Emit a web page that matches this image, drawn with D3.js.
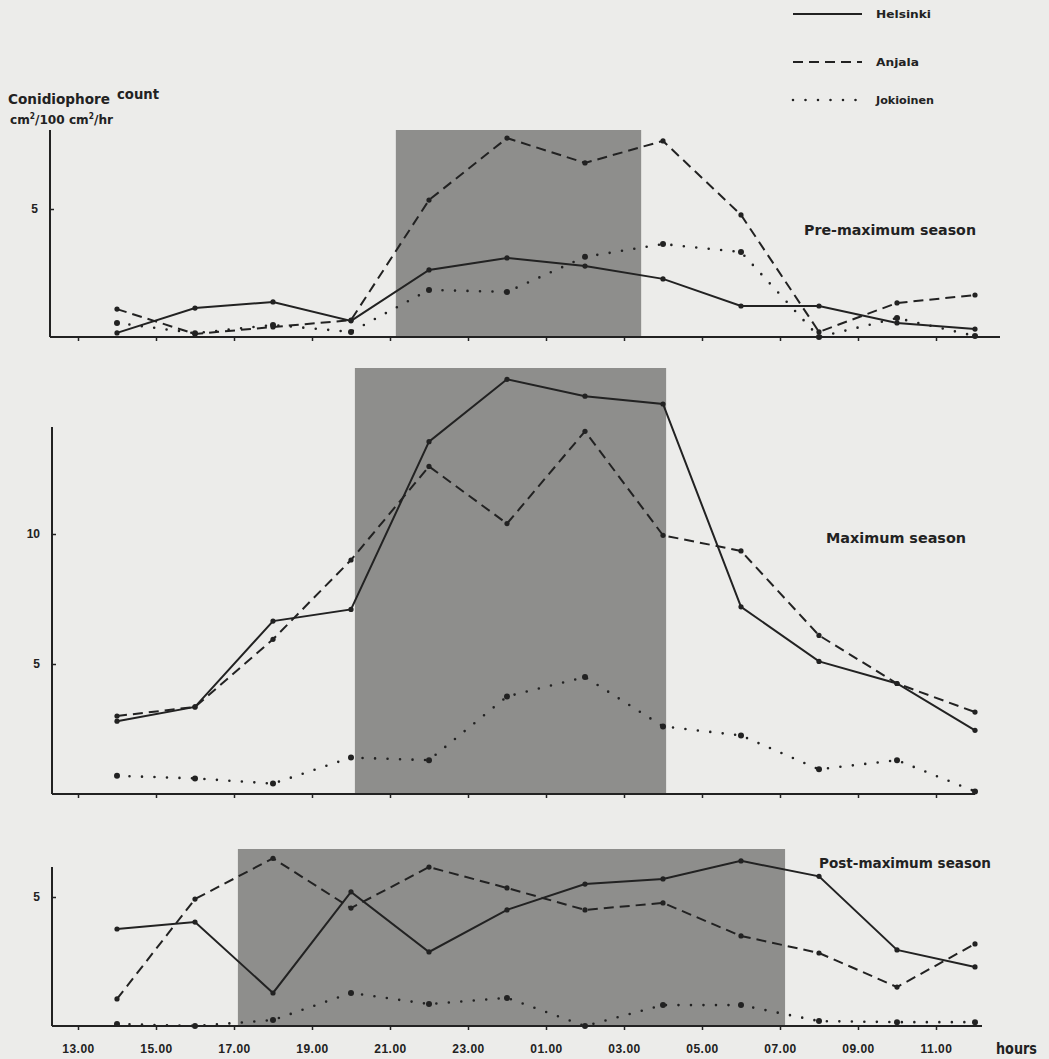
<!DOCTYPE html>
<html lang="en">
<head>
    <meta charset="UTF-8">
    <title>Conidiophore count by hour</title>
    <script src="https://d3js.org/d3.v7.min.js"></script>
    <style>
        body {
            margin: 0;
            background-color: #ececea;
        }
        svg {
            display: block;
            font-family: "Liberation Sans Narrow", "DejaVu Sans Condensed", "Liberation Sans", sans-serif;
        }
        .axis text {
            font-size: 12px;
            font-weight: bold;
            fill: #222;
        }
        .axis line {
            stroke: #222;
            stroke-width: 1.5px;
        }
        .label {
            font-weight: bold;
            fill: #222;
        }
    </style>
</head>
<body>
<svg width="1049" height="1059"></svg>

<script>
    // sampling hours (14.00 of day one ... 12.00 of day two, counted past 24)
    let hours = [14, 16, 18, 20, 22, 24, 26, 28, 30, 32, 34, 36];
    let tickHours = [13, 15, 17, 19, 21, 23, 25, 27, 29, 31, 33, 35];
    let tickLabels = ["13.00", "15.00", "17.00", "19.00", "21.00", "23.00",
                      "01.00", "03.00", "05.00", "07.00", "09.00", "11.00"];
    let seriesNames = ["Helsinki", "Anjala", "Jokioinen"];

    // Pre-maximum season
    let preHelsinki  = [0.16, 1.13, 1.37, 0.63, 2.62, 3.09, 2.77, 2.27, 1.21, 1.21, 0.55, 0.31];
    let preAnjala    = [1.09, 0.12, 0.39, 0.66, 5.35, 7.77, 6.80, 7.66, 4.77, 0.20, 1.33, 1.64];
    let preJokioinen = [0.55, 0.15, 0.47, 0.20, 1.84, 1.76, 3.13, 3.63, 3.32, 0.00, 0.74, 0.04];
    let preDark = [21.15, 27.44];

    // Maximum season
    let maxHelsinki  = [2.80, 3.35, 6.65, 7.10, 13.55, 15.95, 15.30, 15.00, 7.20, 5.10, 4.25, 2.45];
    let maxAnjala    = [3.00, 3.35, 5.95, 9.00, 12.60, 10.40, 13.95, 9.95, 9.35, 6.10, 4.25, 3.15];
    let maxJokioinen = [0.70, 0.60, 0.40, 1.40, 1.30, 3.75, 4.50, 2.60, 2.25, 0.95, 1.30, 0.10];
    let maxDark = [20.1, 28.08];

    // Post-maximum season
    let postHelsinki  = [3.76, 4.03, 1.28, 5.20, 2.87, 4.50, 5.50, 5.70, 6.40, 5.80, 2.95, 2.29];
    let postAnjala    = [1.05, 4.92, 6.50, 4.57, 6.16, 5.35, 4.50, 4.77, 3.49, 2.83, 1.51, 3.18];
    let postJokioinen = [0.08, 0.00, 0.23, 1.28, 0.85, 1.09, 0.00, 0.81, 0.81, 0.19, 0.15, 0.15];
    let postDark = [17.1, 31.13];

    let ink = "#222";
    let dashes = { Helsinki: null, Anjala: "10 6", Jokioinen: "0 12.5" };

    let svg = d3.select("svg");

    let x = d3.scaleLinear().domain([13, 35]).range([78, 936]);

    let panels = [
        { title: "Pre-maximum season", values: [preHelsinki, preAnjala, preJokioinen], dark: preDark,
          yDomain: [0, 5], yRange: [337, 209], ticks: [5], axisX: 50, axisTop: 130, shadeTop: 130,
          lineEnd: 1000, titleX: 804, titleY: 235, titleW: 172, labels: false },
        { title: "Maximum season", values: [maxHelsinki, maxAnjala, maxJokioinen], dark: maxDark,
          yDomain: [0, 10], yRange: [794, 534], ticks: [5, 10], axisX: 52, axisTop: 427, shadeTop: 368,
          lineEnd: 975, titleX: 826, titleY: 543, titleW: 140, labels: false },
        { title: "Post-maximum season", values: [postHelsinki, postAnjala, postJokioinen], dark: postDark,
          yDomain: [0, 5], yRange: [1026, 897], ticks: [5], axisX: 52, axisTop: 867, shadeTop: 849,
          lineEnd: 982, titleX: 819, titleY: 868, titleW: 172, labels: true }
    ];

    panels.forEach(p => {
        let y = d3.scaleLinear().domain(p.yDomain).range(p.yRange);
        let g = svg.append("g");
        let base = y(0);

        // darkness period
        g.append("rect")
            .attr("x", x(p.dark[0]))
            .attr("y", p.shadeTop)
            .attr("width", x(p.dark[1]) - x(p.dark[0]))
            .attr("height", base - p.shadeTop)
            .attr("fill", "#8e8e8c");

        // axes
        g.append("line")
            .attr("x1", p.axisX).attr("x2", p.axisX)
            .attr("y1", p.axisTop).attr("y2", base)
            .attr("stroke", ink).attr("stroke-width", 2);
        g.append("line")
            .attr("x1", p.axisX).attr("x2", p.lineEnd)
            .attr("y1", base).attr("y2", base)
            .attr("stroke", ink).attr("stroke-width", 2);

        g.append("g")
            .attr("class", "axis")
            .attr("transform", `translate(${p.axisX},0)`)
            .call(d3.axisLeft(y).tickValues(p.ticks).tickSize(-4).tickPadding(12)
                .tickFormat(d3.format("d")))
            .call(a => a.select(".domain").remove());

        g.append("g")
            .attr("class", "axis")
            .attr("transform", `translate(0,${base})`)
            .call(d3.axisBottom(x).tickValues(tickHours).tickSize(4).tickPadding(14)
                .tickFormat((d, i) => p.labels ? tickLabels[i] : ""))
            .call(a => a.select(".domain").remove())
            .selectAll("text")
            .attr("letter-spacing", "0.5px");

        // series
        let line = d3.line().x((d, i) => x(hours[i])).y(d => y(d));
        p.values.forEach((vals, k) => {
            let name = seriesNames[k];
            g.append("path")
                .datum(vals)
                .attr("d", line)
                .attr("fill", "none")
                .attr("stroke", ink)
                .attr("stroke-width", name === "Jokioinen" ? 2.6 : 2)
                .attr("stroke-linecap", name === "Jokioinen" ? "round" : "butt")
                .attr("stroke-dasharray", dashes[name]);
            g.selectAll(null)
                .data(vals)
                .enter().append("circle")
                .attr("cx", (d, i) => x(hours[i]))
                .attr("cy", d => y(d))
                .attr("r", name === "Jokioinen" ? 3 : 2.6)
                .attr("fill", ink);
        });

        g.append("text")
            .attr("class", "label")
            .attr("x", p.titleX)
            .attr("y", p.titleY)
            .attr("font-size", "14px")
            .attr("textLength", p.titleW)
            .attr("lengthAdjust", "spacingAndGlyphs")
            .text(p.title);
    });

    svg.append("text")
        .attr("class", "label")
        .attr("x", 996)
        .attr("y", 1054)
        .attr("font-size", "15px")
        .attr("textLength", 41)
        .attr("lengthAdjust", "spacingAndGlyphs")
        .text("hours");

    // y-axis title
    svg.append("text").attr("class", "label")
        .attr("x", 8).attr("y", 104).attr("font-size", "14px")
        .attr("textLength", 102).attr("lengthAdjust", "spacingAndGlyphs")
        .text("Conidiophore");
    svg.append("text").attr("class", "label")
        .attr("x", 117).attr("y", 99).attr("font-size", "14px")
        .attr("textLength", 42).attr("lengthAdjust", "spacingAndGlyphs")
        .text("count");
    let unit = svg.append("text").attr("class", "label")
        .attr("x", 10).attr("y", 124).attr("font-size", "13px")
        .attr("textLength", 103).attr("lengthAdjust", "spacingAndGlyphs");
    unit.append("tspan").text("cm");
    unit.append("tspan").attr("dy", -5).attr("font-size", "8px").text("2");
    unit.append("tspan").attr("dy", 5).text("/100 cm");
    unit.append("tspan").attr("dy", -5).attr("font-size", "8px").text("2");
    unit.append("tspan").attr("dy", 5).text("/hr");

    // legend
    let legend = svg.append("g");
    let legendY = [14, 62, 100];
    let legendW = [55, 43, 58];
    seriesNames.forEach((name, k) => {
        legend.append("line")
            .attr("x1", 793).attr("x2", 862)
            .attr("y1", legendY[k]).attr("y2", legendY[k])
            .attr("stroke", ink)
            .attr("stroke-width", name === "Jokioinen" ? 2.6 : 2)
            .attr("stroke-linecap", name === "Jokioinen" ? "round" : "butt")
            .attr("stroke-dasharray", dashes[name]);
        legend.append("text")
            .attr("class", "label")
            .attr("x", 876)
            .attr("y", legendY[k] + 4)
            .attr("font-size", "11px")
            .attr("textLength", legendW[k])
            .attr("lengthAdjust", "spacingAndGlyphs")
            .text(name);
    });
</script>
</body>
</html>
